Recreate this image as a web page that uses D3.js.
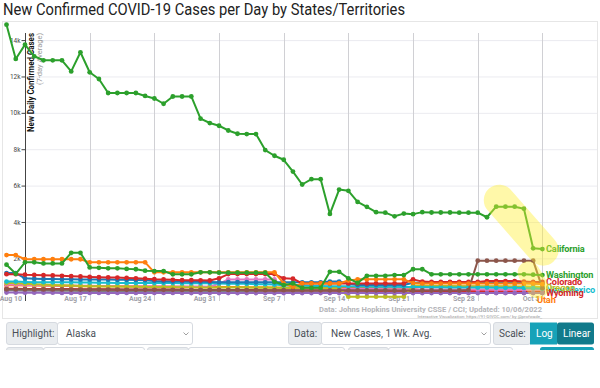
<!DOCTYPE html>
<html>
<head>
<meta charset="utf-8">
<script src="https://cdn.jsdelivr.net/npm/d3@7"></script>
<style>
  html, body { margin: 0; padding: 0; background: #fff; }
  svg { display: block; font-family: Roboto, "Noto Sans", sans-serif; }
</style>
</head>
<body>
<div id="chart"></div>
<script>
// ---- data ----
const dates = [
  "2022-08-08","2022-08-09","2022-08-10","2022-08-11","2022-08-12","2022-08-13","2022-08-14","2022-08-15",
  "2022-08-16","2022-08-17","2022-08-18","2022-08-19","2022-08-20","2022-08-21","2022-08-22","2022-08-23",
  "2022-08-24","2022-08-25","2022-08-26","2022-08-27","2022-08-28","2022-08-29","2022-08-30","2022-08-31",
  "2022-09-01","2022-09-02","2022-09-03","2022-09-04","2022-09-05","2022-09-06","2022-09-07","2022-09-08",
  "2022-09-09","2022-09-10","2022-09-11","2022-09-12","2022-09-13","2022-09-14","2022-09-15","2022-09-16",
  "2022-09-17","2022-09-18","2022-09-19","2022-09-20","2022-09-21","2022-09-22","2022-09-23","2022-09-24",
  "2022-09-25","2022-09-26","2022-09-27","2022-09-28","2022-09-29","2022-09-30","2022-10-01","2022-10-02",
  "2022-10-03","2022-10-04","2022-10-05"
];

const california = [14850,12965,13750,13110,12890,12890,12890,12280,13330,12230,11860,11090,11090,11090,11090,10930,
  10790,10500,10900,10900,10900,9680,9440,9290,9030,8850,8830,8830,7950,7640,7420,6770,
  6060,6350,6350,4440,5780,5710,5100,4830,4540,4510,4310,4460,4430,4540,4520,4520,
  4520,4510,4510,4510,4260,4840,4840,4840,4730,2550,2510];
const washington = [1650,1150,1780,1780,1720,1720,1720,2300,2300,1500,1480,1450,1450,1420,1400,1320,
  1300,1300,1120,1120,1120,1230,1230,1210,1210,1210,1210,1210,1210,710,530,620,
  380,380,380,1260,1260,900,650,1040,1040,1040,1080,1080,1400,1400,1120,1120,
  1120,1120,1120,1120,1120,1120,1120,1120,1120,1100,1080];
const texasOrange = [2180,2180,1950,1950,1950,1950,1950,1950,1950,1780,1780,1780,1780,1780,1780,1780,
  1230,1230,1230,1230,1230,1230,1230,1230,1230,1230,1230,1230,1230,1230,620,440,
  620,620,620,620,620,780,843,843,843,843,843,843,640,610,610,610,
  610,610,610,610,610,610,610,610,610,610,580];
const colorado = [1130,1130,1100,1090,1070,1060,1040,1020,1000,980,960,950,940,920,900,880,
  850,840,820,800,800,790,780,900,1135,1135,1135,1135,1135,1135,900,880,
  620,620,620,620,620,620,620,620,620,620,620,620,843,720,700,700,
  700,700,700,700,750,750,750,750,720,700,700];
const blue = [1190,1190,900,880,870,860,850,850,840,840,830,830,820,820,810,800,
  760,740,720,720,710,710,700,690,690,690,690,680,680,680,680,680,
  680,680,680,720,720,620,530,530,530,530,530,530,660,660,660,660,
  660,660,640,660,660,660,660,660,640,620,600];
const newMexico = [720,720,700,690,690,680,680,680,670,670,660,660,650,650,650,640,
  640,640,640,630,630,630,630,620,600,600,600,580,580,560,520,500,
  500,480,480,470,460,460,450,450,440,440,440,430,420,420,410,410,
  400,400,400,390,390,380,380,380,370,360,330];
const oregon = [640,640,600,580,560,540,520,500,480,470,460,450,450,440,440,430,
  430,420,420,410,410,400,400,400,390,390,390,380,380,380,370,370,
  360,360,360,350,350,-110,-110,-110,-110,-110,-110,-110,500,500,480,480,
  480,470,470,470,460,460,460,450,450,440,430];
const pink = [560,560,540,530,520,510,500,500,490,490,480,480,470,470,470,460,
  460,460,450,450,450,450,440,600,840,840,840,840,840,840,350,340,
  340,330,330,320,320,320,310,310,310,300,300,300,300,290,290,290,
  290,280,280,280,280,270,270,270,270,260,260];
const utah = [520,520,500,500,490,490,480,480,470,470,470,460,460,460,450,450,
  450,440,440,440,430,430,430,420,420,420,410,410,410,400,400,400,
  390,390,390,380,380,380,380,370,370,370,360,360,360,450,450,450,
  450,450,450,440,440,440,440,430,430,420,410];
const wyoming = [330,330,320,320,320,310,310,310,300,300,300,300,290,290,290,290,
  280,280,280,280,270,270,270,270,260,260,260,260,250,250,250,250,
  240,240,240,240,230,230,230,230,220,220,220,220,210,210,210,210,
  200,200,200,200,190,190,190,190,180,180,170];
const brown = [300,300,300,290,290,290,290,280,280,280,280,280,280,270,270,270,
  270,270,270,260,260,260,260,260,260,260,250,250,250,250,250,250,
  250,250,240,240,240,240,240,240,240,240,230,230,230,230,230,230,
  230,230,254,1870,1870,1870,1870,1870,1870,1870,360];
const gray = [240,240,230,230,230,220,220,220,210,210,210,200,200,200,200,190,
  190,190,180,180,180,180,170,170,170,170,160,160,160,160,160,150,
  150,150,150,150,140,140,140,140,140,130,130,130,130,130,130,120,
  120,120,120,120,120,110,110,110,110,110,100];
const purple = [120,120,110,110,110,110,100,100,100,100,100,100,100,100,100,100,
  100,100,100,100,90,90,90,90,90,90,90,90,90,90,90,90,
  90,90,90,90,90,90,90,90,90,90,90,90,90,90,90,90,
  90,90,90,90,90,90,90,90,90,90,90];
const purple2 = [260,260,250,250,250,250,240,240,240,240,240,230,230,230,230,230,
  230,220,220,220,220,220,220,210,210,210,210,210,210,200,200,200,
  200,200,200,200,200,190,190,190,190,190,190,190,190,190,180,180,
  180,180,180,180,180,180,170,170,170,170,170];

// drawing order: first drawn ends up underneath
const seriesList = [
  { name: "Purple A", color: "#9467bd", values: purple2 },
  { name: "Gray", color: "#7f7f7f", values: gray },
  { name: "Wyoming", color: "#d62728", values: wyoming, label: true },
  { name: "Utah", color: "#ff7f0e", values: utah, label: true },
  { name: "Pink", color: "#e377c2", values: pink },
  { name: "Oregon", color: "#bcbd22", values: oregon, label: true },
  { name: "New Mexico", color: "#17becf", values: newMexico, label: true },
  { name: "Blue", color: "#1f77b4", values: blue },
  { name: "Colorado", color: "#d62728", values: colorado, label: true },
  { name: "Purple", color: "#9467bd", values: purple },
  { name: "Brown", color: "#8c564b", values: brown },
  { name: "Orange", color: "#ff7f0e", values: texasOrange },
  { name: "Washington", color: "#2ca02c", values: washington, label: true },
  { name: "California", color: "#2ca02c", values: california, label: true }
];

const tickDates = ["2022-08-10","2022-08-17","2022-08-24","2022-08-31","2022-09-07",
  "2022-09-14","2022-09-21","2022-09-28","2022-10-05"];
const tickLabels = ["Aug 10","Aug 17","Aug 24","Aug 31","Sep 7","Sep 14","Sep 21","Sep 28","Oct 5"];
const yTicks = [2000, 4000, 6000, 8000, 10000, 12000, 14000];
const yTickLabels = ["2k","4k","6k","8k","10k","12k","14k"];

// yellow marker annotations [date, value] -> [date, value]
const highlights = [
  { from: ["2022-09-30T08:00", 5200], to: ["2022-10-05T02:00", 2450], width: 31 },
  { from: ["2022-10-03T12:00", 1230], to: ["2022-10-04T12:00", 400], width: 22 }
];

// label nudges (pixels) so overlapping names sit like the original
const labelNudge = { "California": [0, 0], "Washington": [0, 0], "Colorado": [0, 0],
  "Oregon": [0, 0.5], "New Mexico": [0, 1.5], "Wyoming": [0, 1.2], "Utah": [-9, 12.5] };

// ---- layout ----
const W = 600, H = 388;
const parse = d3.isoParse;

const svg = d3.select("#chart").append("svg")
  .attr("width", W).attr("height", H);

// title
svg.append("text")
  .attr("x", 3).attr("y", 15)
  .attr("font-size", 15.8)
  .attr("fill", "#222")
  .attr("textLength", 402)
  .attr("lengthAdjust", "spacingAndGlyphs")
  .text("New Confirmed COVID-19 Cases per Day by States/Territories");

// chart frame
svg.append("rect")
  .attr("x", 2.5).attr("y", 21.5)
  .attr("width", 595).attr("height", 297)
  .attr("fill", "#fff")
  .attr("stroke", "#e6e6e6");

const x = d3.scaleTime()
  .domain([parse("2022-08-10"), parse("2022-10-05")])
  .range([25, 542.4]);

const y = d3.scaleLinear()
  .domain([0, 14000])
  .range([294.7, 40.1]);

const plotTop = 33, plotBottom = 301;

// horizontal grid
svg.append("g")
  .selectAll("line")
  .data(yTicks)
  .join("line")
  .attr("x1", 25).attr("x2", 597)
  .attr("y1", d => y(d) + 0.5).attr("y2", d => y(d) + 0.5)
  .attr("stroke", "#ebebf0");

// vertical grid
svg.append("g")
  .selectAll("line")
  .data(tickDates)
  .join("line")
  .attr("x1", d => Math.round(x(parse(d))) + 0.5)
  .attr("x2", d => Math.round(x(parse(d))) + 0.5)
  .attr("y1", plotTop).attr("y2", plotBottom)
  .attr("stroke", "#d0d0d4");

// x labels (right-aligned, just left of each gridline)
svg.append("g")
  .selectAll("text")
  .data(tickDates)
  .join("text")
  .attr("x", d => x(parse(d)) - 3)
  .attr("y", 300.5)
  .attr("text-anchor", "end")
  .attr("font-size", 7)
  .attr("font-weight", "bold")
  .attr("fill", "#a0a0a8")
  .text((d, i) => tickLabels[i]);

// y axis
const yAxis = svg.append("g")
  .attr("transform", "translate(25.5,0)")
  .call(d3.axisLeft(y).tickValues(yTicks).tickFormat((d, i) => yTickLabels[i]).tickSize(4));
yAxis.select(".domain").attr("d", `M0,${plotTop}V${plotBottom}`).attr("stroke", "#444");
yAxis.selectAll(".tick line").attr("stroke", "#444");
yAxis.selectAll(".tick text").attr("font-size", 6.5).attr("fill", "#444")
  .attr("font-family", "Roboto, sans-serif").attr("x", -5);

// y title
svg.append("text")
  .attr("transform", `translate(34,${plotTop}) rotate(-90)`)
  .attr("text-anchor", "end")
  .attr("font-size", 8.8)
  .attr("font-weight", "bold")
  .attr("fill", "#111")
  .attr("textLength", 99)
  .attr("lengthAdjust", "spacingAndGlyphs")
  .text("New Daily Confirmed Cases");
svg.append("text")
  .attr("transform", `translate(41.5,${plotTop}) rotate(-90)`)
  .attr("text-anchor", "end")
  .attr("font-size", 8)
  .attr("fill", "#999")
  .attr("textLength", 52)
  .attr("lengthAdjust", "spacingAndGlyphs")
  .text("(7-day Average)");

// series
const line = d3.line()
  .x((d, i) => x(parse(dates[i])))
  .y(d => y(d));

const gSeries = svg.append("g");
seriesList.forEach(s => {
  const g = gSeries.append("g");
  g.append("path")
    .datum(s.values)
    .attr("fill", "none")
    .attr("stroke", s.color)
    .attr("stroke-width", 2)
    .attr("stroke-linejoin", "round")
    .attr("d", line);
  g.selectAll("circle")
    .data(s.values)
    .join("circle")
    .attr("cx", (d, i) => x(parse(dates[i])))
    .attr("cy", d => y(d))
    .attr("r", 2.4)
    .attr("fill", s.color);
});

// end labels, placed at each line's last value
const labelOrder = ["California", "Washington", "Colorado", "New Mexico", "Oregon", "Wyoming", "Utah"];
labelOrder.forEach(n => {
  const s = seriesList.find(d => d.name === n);
  const nudge = labelNudge[n];
  svg.append("text")
    .attr("x", 546 + nudge[0])
    .attr("y", y(s.values[s.values.length - 1]) + nudge[1] + 3.3)
    .attr("font-size", 9.2)
    .attr("font-weight", "bold")
    .attr("letter-spacing", -0.15)
    .attr("fill", s.color)
    .text(n);
});

// yellow marker highlight (drawn on top, translucent)
highlights.forEach(h => {
  svg.append("line")
    .attr("x1", x(parse(h.from[0]))).attr("y1", y(h.from[1]))
    .attr("x2", x(parse(h.to[0]))).attr("y2", y(h.to[1]))
    .attr("stroke", "#ffee33")
    .attr("stroke-opacity", 0.42)
    .attr("stroke-width", h.width)
    .attr("stroke-linecap", "round");
});

// source text
svg.append("text")
  .attr("x", 542).attr("y", 312)
  .attr("text-anchor", "end")
  .attr("font-size", 7.6)
  .attr("font-weight", "bold")
  .attr("fill", "#b4b4b8")
  .text("Data: Johns Hopkins University CSSE / CCI; Updated: 10/06/2022");
svg.append("text")
  .attr("x", 542).attr("y", 317.5)
  .attr("text-anchor", "end")
  .attr("font-size", 4.4)
  .attr("fill", "#999")
  .text("Interactive Visualization: https://91-DIVOC.com/ by @profwade_");

// ---- controls ----
const ctrl = svg.append("g").attr("font-size", 10).attr("fill", "#495057");
const rowY = 322.5, rowH = 22;

function box(x0, x1, fill, yy, hh) {
  ctrl.append("rect")
    .attr("x", x0 + 0.5).attr("y", yy)
    .attr("width", x1 - x0).attr("height", hh)
    .attr("rx", 2.5)
    .attr("fill", fill)
    .attr("stroke", "#d6dae0");
}
function label(xx, txt, color) {
  ctrl.append("text").attr("x", xx).attr("y", rowY + 14.5)
    .attr("fill", color || "#495057").text(txt);
}
function chevron(xx) {
  ctrl.append("path")
    .attr("d", `M${xx - 2.5},${rowY + 10}l2.5,2.5l2.5,-2.5`)
    .attr("fill", "none").attr("stroke", "#888").attr("stroke-width", 0.8);
}

box(6, 57, "#e9ecef", rowY, rowH);
box(57, 192, "#fff", rowY, rowH);
label(12, "Highlight:");
label(66, "Alaska");
chevron(186);

box(288, 321, "#e9ecef", rowY, rowH);
box(321, 490, "#fff", rowY, rowH);
label(294, "Data:");
label(331, "New Cases, 1 Wk. Avg.");
chevron(484);

box(493, 530, "#e9ecef", rowY, rowH);
label(499, "Scale:");
ctrl.append("rect").attr("x", 530).attr("y", rowY).attr("width", 27).attr("height", rowH).attr("fill", "#17a2b8");
ctrl.append("rect").attr("x", 557).attr("y", rowY).attr("width", 37).attr("height", rowH)
  .attr("rx", 2.5).attr("fill", "#117a8b");
label(536, "Log", "#fff");
label(563, "Linear", "#fff");

// second row, only its top edge shows
const row2 = 347;
[[6, 43, "#e9ecef"], [43, 144, "#fff"], [147, 188, "#e9ecef"], [188, 344, "#fff"],
 [348, 388, "#e9ecef"], [388, 512, "#fff"]].forEach(b => box(b[0], b[1], b[2], row2 + 0.5, 12));
ctrl.append("rect").attr("x", 540).attr("y", row2).attr("width", 54).attr("height", 12)
  .attr("rx", 2.5).attr("fill", "#17a2b8");
svg.append("rect").attr("x", 0).attr("y", row2 + 3).attr("width", W).attr("height", H - row2)
  .attr("fill", "#fff");
</script>
</body>
</html>
